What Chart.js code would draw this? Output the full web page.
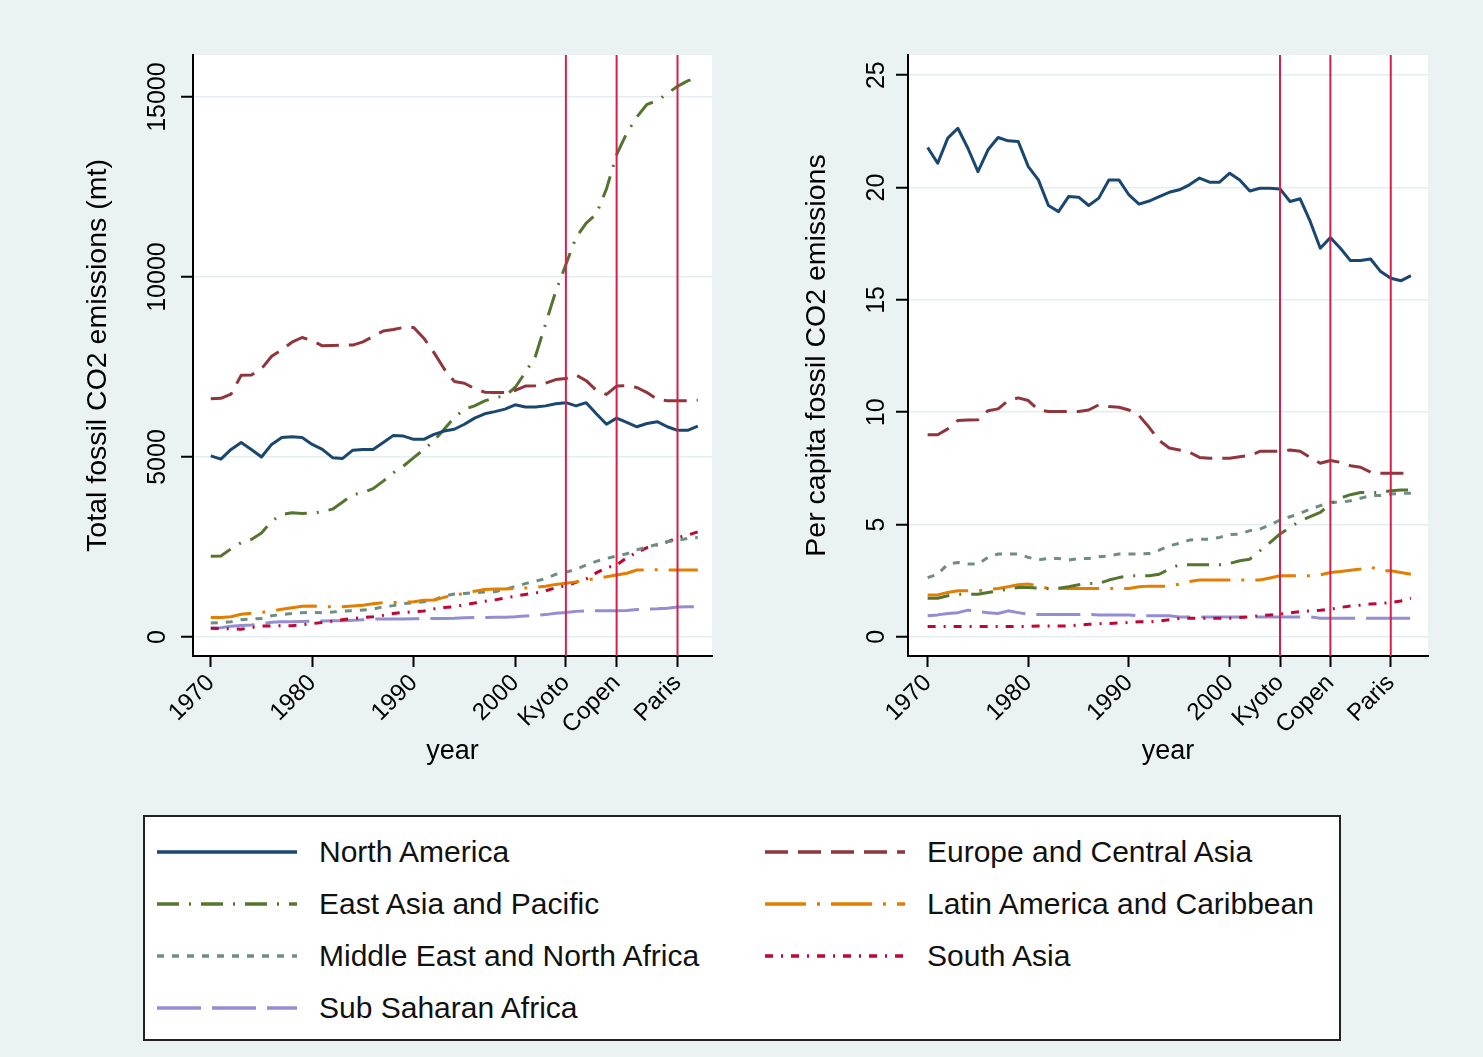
<!DOCTYPE html>
<html lang="en">
<head>
    <meta charset="UTF-8">
    <title>Fossil CO2 emissions by region</title>
    <script src="https://cdn.jsdelivr.net/npm/chart.js"></script>
    <style>
        body {
            margin: 0;
            background-color: #eaf2f3;
            font-family: "Liberation Sans", Arial, sans-serif;
        }

        #wrap {
            position: relative;
            width: 1483px;
            height: 1057px;
        }

        canvas {
            position: absolute;
            top: 0;
        }

        #leftChart { left: 0; }
        #rightChart { left: 720px; }

        #legend {
            position: absolute;
            left: 143px;
            top: 815px;
            width: 1198px;
            height: 226px;
            box-sizing: border-box;
            background-color: #fff;
            border: 2px solid #222;
        }

        .item {
            position: absolute;
            height: 40px;
            display: flex;
            align-items: center;
            font-size: 30px;
            color: #111;
            white-space: nowrap;
        }

        .item svg {
            margin-right: 22px;
        }
    </style>
</head>
<body>
<div id="wrap">
    <canvas id="leftChart" width="740" height="775"></canvas>
    <canvas id="rightChart" width="740" height="775"></canvas>
    <div id="legend"></div>
</div>

<script>
    // years on the x axis
    const years = [1970, 1971, 1972, 1973, 1974, 1975, 1976, 1977, 1978, 1979,
                   1980, 1981, 1982, 1983, 1984, 1985, 1986, 1987, 1988, 1989,
                   1990, 1991, 1992, 1993, 1994, 1995, 1996, 1997, 1998, 1999,
                   2000, 2001, 2002, 2003, 2004, 2005, 2006, 2007, 2008, 2009,
                   2010, 2011, 2012, 2013, 2014, 2015, 2016, 2017, 2018];

    const regions = ['North America', 'Europe and Central Asia', 'East Asia and Pacific',
                     'Latin America and Caribbean', 'Middle East and North Africa',
                     'South Asia', 'Sub Saharan Africa'];

    // total emissions (mt)
    const naTotal = [5030, 4940, 5210, 5400, 5210, 5000, 5350, 5540, 5560, 5540,
                     5350, 5210, 4980, 4960, 5190, 5210, 5210, 5400, 5600, 5580,
                     5490, 5490, 5630, 5720, 5770, 5910, 6080, 6200, 6260, 6330,
                     6450, 6390, 6390, 6420, 6480, 6510, 6420, 6510, 6200, 5910,
                     6080, 5960, 5840, 5930, 5980, 5840, 5740, 5740, 5860];
    const ecaTotal = [6620, 6630, 6750, 7270, 7280, 7450, 7800, 7980, 8190, 8320,
                      8230, 8090, 8100, 8110, 8110, 8200, 8350, 8500, 8540, 8600,
                      8600, 8300, 7900, 7450, 7100, 7050, 6900, 6800, 6790, 6790,
                      6850, 6970, 6980, 7050, 7150, 7180, 7280, 7120, 6850, 6740,
                      6970, 6980, 6930, 6790, 6600, 6560, 6560, 6560, 6580];
    const eapTotal = [2240, 2250, 2450, 2620, 2710, 2890, 3220, 3400, 3450, 3430,
                      3440, 3480, 3550, 3750, 3950, 4010, 4120, 4330, 4560, 4750,
                      4980, 5210, 5450, 5770, 6090, 6330, 6420, 6560, 6650, 6700,
                      6930, 7350, 7800, 8700, 9600, 10350, 11100, 11500, 11750, 12450,
                      13400, 14000, 14450, 14800, 14900, 15100, 15300, 15450, 15550];
    const lacTotal = [540, 540, 560, 630, 660, 680, 720, 770, 810, 850,
                      860, 840, 840, 840, 860, 880, 920, 950, 955, 960,
                      980, 1020, 1025, 1100, 1160, 1210, 1270, 1320, 1330, 1330,
                      1345, 1360, 1375, 1410, 1460, 1490, 1530, 1580, 1630, 1670,
                      1720, 1770, 1860, 1860, 1870, 1860, 1860, 1860, 1860];
    const menaTotal = [390, 400, 420, 480, 500, 510, 590, 620, 650, 675,
                       680, 670, 690, 720, 730, 750, 770, 840, 870, 930,
                       945, 980, 1030, 1140, 1190, 1210, 1230, 1245, 1255, 1320,
                       1400, 1480, 1550, 1620, 1740, 1800, 1880, 2000, 2100, 2180,
                       2250, 2310, 2420, 2500, 2570, 2650, 2680, 2740, 2760];
    const saTotal = [240, 230, 225, 215, 260, 300, 305, 310, 310, 340,
                     370, 400, 440, 480, 510, 540, 560, 600, 650, 680,
                     700, 720, 780, 820, 840, 890, 940, 990, 1030, 1080,
                     1130, 1180, 1220, 1280, 1370, 1420, 1520, 1610, 1780, 1920,
                     2000, 2200, 2350, 2480, 2560, 2640, 2760, 2830, 2920];
    const ssaTotal = [250, 255, 300, 320, 330, 360, 410, 420, 420, 430,
                      440, 445, 450, 450, 460, 480, 495, 495, 495, 500,
                      505, 510, 510, 515, 520, 535, 540, 540, 545, 550,
                      560, 580, 600, 620, 660, 680, 710, 720, 725, 725,
                      730, 735, 760, 770, 780, 800, 830, 840, 840];

    // per capita emissions
    const naPc = [21.78, 21.08, 22.2, 22.64, 21.75, 20.71, 21.68, 22.23, 22.08, 22.05,
                  20.93, 20.34, 19.2, 18.93, 19.6, 19.57, 19.2, 19.53, 20.34, 20.34,
                  19.67, 19.26, 19.4, 19.6, 19.79, 19.9, 20.12, 20.42, 20.24, 20.24,
                  20.64, 20.34, 19.85, 19.97, 19.97, 19.94, 19.38, 19.5, 18.49, 17.3,
                  17.77, 17.3, 16.75, 16.75, 16.82, 16.26, 15.96, 15.85, 16.08];
    const ecaPc = [9.0, 9.0, 9.26, 9.63, 9.65, 9.66, 10.07, 10.15, 10.52, 10.64,
                   10.52, 10.1, 10.03, 10.03, 10.03, 10.03, 10.1, 10.33, 10.25, 10.22,
                   10.1, 9.85, 9.33, 8.74, 8.41, 8.32, 8.22, 7.99, 7.95, 7.95,
                   7.95, 8.02, 8.07, 8.26, 8.26, 8.26, 8.32, 8.26, 7.99, 7.73,
                   7.85, 7.77, 7.62, 7.55, 7.33, 7.28, 7.28, 7.28, 7.28];
    const eapPc = [1.72, 1.72, 1.83, 1.9, 1.9, 1.9, 1.98, 2.05, 2.12, 2.2,
                   2.2, 2.17, 2.15, 2.17, 2.23, 2.32, 2.38, 2.38, 2.53, 2.64,
                   2.72, 2.72, 2.72, 2.79, 3.02, 3.21, 3.21, 3.21, 3.21, 3.21,
                   3.27, 3.39, 3.46, 3.83, 4.2, 4.58, 4.87, 5.17, 5.35, 5.54,
                   5.91, 6.18, 6.33, 6.43, 6.43, 6.43, 6.51, 6.54, 6.54];
    const lacPc = [1.87, 1.87, 1.98, 2.05, 2.05, 2.05, 2.12, 2.15, 2.23, 2.32,
                   2.35, 2.27, 2.15, 2.15, 2.15, 2.15, 2.15, 2.15, 2.15, 2.15,
                   2.15, 2.23, 2.26, 2.26, 2.26, 2.35, 2.47, 2.53, 2.53, 2.53,
                   2.53, 2.53, 2.53, 2.53, 2.62, 2.72, 2.72, 2.72, 2.72, 2.76,
                   2.87, 2.91, 2.97, 3.02, 3.12, 2.94, 2.94, 2.87, 2.79];
    const menaPc = [2.64, 2.79, 3.24, 3.31, 3.24, 3.24, 3.54, 3.69, 3.69, 3.69,
                    3.54, 3.43, 3.49, 3.49, 3.42, 3.49, 3.49, 3.57, 3.6, 3.69,
                    3.69, 3.69, 3.71, 3.86, 4.06, 4.16, 4.31, 4.35, 4.35, 4.43,
                    4.55, 4.58, 4.73, 4.8, 4.99, 5.2, 5.35, 5.5, 5.69, 5.84,
                    5.99, 5.99, 6.06, 6.17, 6.29, 6.29, 6.36, 6.39, 6.39];
    const saPc = [0.46, 0.46, 0.46, 0.46, 0.46, 0.46, 0.46, 0.46, 0.46, 0.46,
                  0.46, 0.49, 0.49, 0.49, 0.49, 0.53, 0.56, 0.59, 0.6, 0.62,
                  0.64, 0.67, 0.67, 0.71, 0.76, 0.82, 0.83, 0.83, 0.83, 0.83,
                  0.83, 0.86, 0.89, 0.94, 0.98, 1.01, 1.07, 1.13, 1.16, 1.19,
                  1.23, 1.31, 1.38, 1.41, 1.46, 1.49, 1.53, 1.6, 1.72];
    const ssaPc = [0.94, 0.98, 1.04, 1.08, 1.19, 1.13, 1.08, 1.04, 1.16, 1.08,
                   1.01, 1.0, 1.0, 1.0, 1.0, 1.0, 1.0, 0.98, 0.98, 0.98,
                   0.98, 0.94, 0.94, 0.94, 0.94, 0.89, 0.89, 0.89, 0.89, 0.89,
                   0.89, 0.89, 0.89, 0.89, 0.89, 0.89, 0.89, 0.89, 0.89, 0.83,
                   0.83, 0.83, 0.83, 0.83, 0.83, 0.83, 0.83, 0.83, 0.83];

    // axis ticks and climate agreement markers
    const xTickValues = [1970, 1980, 1990, 2000, 2005, 2010, 2016];
    const xTickLabels = ['1970', '1980', '1990', '2000', 'Kyoto', 'Copen', 'Paris'];
    const eventYears = [2005, 2010, 2016];
    const totalTicks = [0, 5000, 10000, 15000];
    const pcTicks = [0, 5, 10, 15, 20, 25];

    // styles
    const colors = ['#1a476f', '#90353b', '#55752f', '#e37e00', '#6e8e84', '#c10534', '#938dd2'];
    const dashes = [[], [23, 10], [22, 10, 2, 10], [41, 11, 3, 11], [7, 8], [8, 8, 2, 8], [44, 11]];

    const FONT = '"Liberation Sans", Arial, sans-serif';
    Chart.defaults.font.family = FONT;
    Chart.defaults.color = '#000';

    function makeDatasets(seriesList) {
        return seriesList.map((vals, i) => ({
            label: regions[i],
            data: years.map((yr, j) => ({ x: yr, y: vals[j] })),
            borderColor: colors[i],
            borderDash: dashes[i],
            borderWidth: 3,
            borderCapStyle: 'butt',
            borderJoinStyle: 'round',
            pointRadius: 0,
            fill: false,
            tension: 0
        }));
    }

    // white plot region
    const plotBg = {
        id: 'plotBg',
        beforeDraw(chart) {
            const a = chart.chartArea;
            chart.ctx.save();
            chart.ctx.fillStyle = '#fff';
            chart.ctx.fillRect(a.left, a.top, a.right - a.left, a.bottom - a.top);
            chart.ctx.restore();
        }
    };

    // red lines for Kyoto / Copenhagen / Paris
    const eventLines = {
        id: 'eventLines',
        afterDatasetsDraw(chart) {
            const { ctx, chartArea, scales } = chart;
            ctx.save();
            ctx.strokeStyle = '#d3204d';
            ctx.lineWidth = 2;
            eventYears.forEach(yr => {
                const x = scales.x.getPixelForValue(yr);
                ctx.beginPath();
                ctx.moveTo(x, chartArea.top);
                ctx.lineTo(x, chartArea.bottom);
                ctx.stroke();
            });
            ctx.restore();
        }
    };

    // vertical y tick labels, like Stata draws them
    const yLabels = {
        id: 'yLabels',
        afterDraw(chart, args, opts) {
            const { ctx, scales } = chart;
            ctx.save();
            ctx.font = '25px ' + FONT;
            ctx.fillStyle = '#000';
            ctx.textAlign = 'center';
            ctx.textBaseline = 'middle';
            opts.values.forEach(v => {
                ctx.save();
                ctx.translate(opts.x, scales.y.getPixelForValue(v));
                ctx.rotate(-Math.PI / 2);
                ctx.fillText(String(v), 0, 0);
                ctx.restore();
            });
            ctx.restore();
        }
    };

    function makeChart(canvasId, seriesList, cfg) {
        return new Chart(document.getElementById(canvasId), {
            type: 'line',
            data: { datasets: makeDatasets(seriesList) },
            plugins: [plotBg, eventLines, yLabels],
            options: {
                responsive: false,
                animation: false,
                layout: { padding: { left: 0, top: 55, right: cfg.padRight, bottom: 5 } },
                plugins: {
                    legend: { display: false },
                    tooltip: { enabled: false },
                    yLabels: { x: cfg.labelX, values: cfg.ticks }
                },
                scales: {
                    x: {
                        type: 'linear',
                        min: cfg.xMin,
                        max: cfg.xMax,
                        afterBuildTicks: s => { s.ticks = xTickValues.map(v => ({ value: v })); },
                        afterFit: s => { s.height = 114; },
                        ticks: {
                            autoSkip: false,
                            minRotation: 45,
                            maxRotation: 45,
                            padding: 2,
                            font: { size: 24 },
                            callback: (v, i) => xTickLabels[i]
                        },
                        grid: { drawOnChartArea: false, tickColor: '#000', tickLength: 11, tickWidth: 2 },
                        border: { color: '#000', width: 2 },
                        title: { display: true, text: 'year', font: { size: 27 }, padding: { top: 0, bottom: 2 } }
                    },
                    y: {
                        type: 'linear',
                        min: cfg.yMin,
                        max: cfg.yMax,
                        afterBuildTicks: s => { s.ticks = cfg.ticks.map(v => ({ value: v })); },
                        afterFit: s => { s.width = cfg.plotLeft; },
                        ticks: { display: false },
                        grid: { color: '#e4edef', lineWidth: 1.5, tickColor: '#000', tickLength: 12, tickWidth: 2 },
                        border: { color: '#000', width: 2 },
                        title: { display: true, text: cfg.yTitle, font: { size: 28.5 }, padding: { top: cfg.titlePad, bottom: 0 } }
                    }
                }
            }
        });
    }

    makeChart('leftChart',
        [naTotal, ecaTotal, eapTotal, lacTotal, menaTotal, saTotal, ssaTotal],
        { plotLeft: 193, padRight: 28, xMin: 1968.25, xMax: 2019.4, yMin: -530, yMax: 16170,
          ticks: totalTicks, labelX: 158, titlePad: 81, yTitle: 'Total fossil CO2 emissions (mt)' });

    makeChart('rightChart',
        [naPc, ecaPc, eapPc, lacPc, menaPc, saPc, ssaPc],
        { plotLeft: 188, padRight: 32, xMin: 1968.05, xMax: 2019.7, yMin: -0.85, yMax: 25.9,
          ticks: pcTicks, labelX: 157, titlePad: 80, yTitle: 'Per capita fossil CO2 emissions' });

    // legend in the Stata box layout: two columns
    const legend = document.getElementById('legend');
    regions.forEach((name, i) => {
        const col = i % 2;
        const row = Math.floor(i / 2);
        const item = document.createElement('div');
        item.className = 'item';
        item.style.left = (col ? 620 : 12) + 'px';
        item.style.top = (15 + row * 52) + 'px';
        const dash = dashes[i].length ? dashes[i].join(' ') : 'none';
        item.innerHTML =
            '<svg width="140" height="10"><line x1="0" y1="5" x2="140" y2="5" stroke="' + colors[i] +
            '" stroke-width="3.5" stroke-dasharray="' + dash + '"/></svg>' + name;
        legend.appendChild(item);
    });
</script>
</body>
</html>
